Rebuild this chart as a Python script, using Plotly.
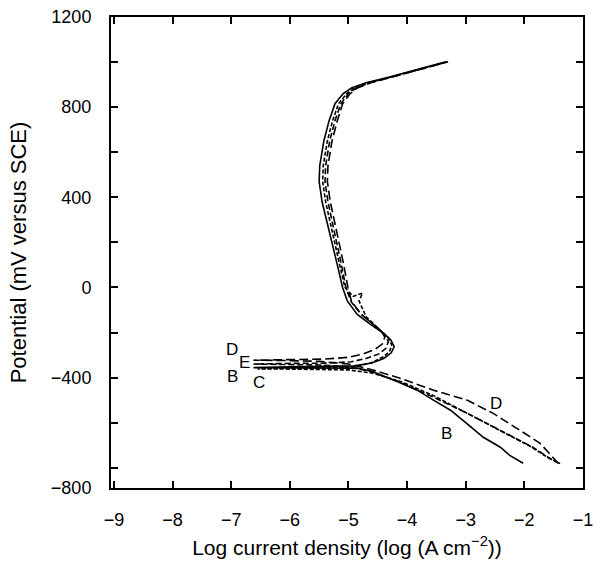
import plotly.graph_objects as go

# ---- data (log current density, potential mV vs SCE) ----
B_x = [-2.02, -2.25, -2.41, -2.70, -3.00, -3.26, -3.55, -3.83, -4.10, -4.34, -4.60, -4.85,
       -5.40, -6.00, -6.62, -6.00, -5.40, -4.90, -4.60, -4.40, -4.27, -4.22, -4.28, -4.42,
       -4.62, -4.85, -5.02, -5.10, -5.19, -5.32, -5.45, -5.50, -5.49, -5.42, -5.33, -5.23,
       -5.09, -4.95, -4.70, -4.30, -3.84, -3.50, -3.34]
B_y = [-780, -745, -709, -665, -600, -545, -500, -456, -425, -398, -372, -358,
       -357, -357, -356, -352, -351, -348, -335, -315, -290, -262, -232, -200,
       -165, -120, -60, 0, 100, 240, 380, 470, 540, 650, 740, 815,
       860, 885, 908, 934, 965, 990, 1001]

C_x = [-1.45, -1.60, -1.90, -2.45, -3.00, -3.55, -4.10, -4.60, -5.00, -5.50, -6.10, -6.55,
       -6.00, -5.40, -4.90, -4.62, -4.42, -4.30, -4.26, -4.33, -4.50, -4.70, -4.82, -4.76,
       -4.92, -5.06, -5.15, -5.27, -5.39, -5.44, -5.43, -5.36, -5.27, -5.17, -5.03, -4.90,
       -4.66, -4.27, -3.82, -3.48, -3.32]
C_y = [-775, -755, -705, -630, -555, -480, -418, -380, -366, -363, -362, -362,
       -360, -358, -352, -335, -310, -285, -255, -220, -180, -130, -60, -25,
       -40, 0, 100, 240, 380, 470, 540, 650, 740, 815, 860, 885,
       908, 934, 965, 990, 1001]

D_x = [-1.42, -1.73, -2.07, -2.53, -2.97, -3.55, -4.12, -4.60, -5.00, -5.50, -6.10, -6.62,
       -6.00, -5.40, -5.00, -4.75, -4.55, -4.42, -4.38, -4.45, -4.60, -4.80, -4.95, -5.01,
       -5.08, -5.19, -5.31, -5.36, -5.35, -5.28, -5.19, -5.10, -4.97, -4.85, -4.62, -4.25,
       -3.80, -3.46, -3.30]
D_y = [-781, -692, -635, -559, -501, -456, -403, -365, -340, -328, -324, -323,
       -320, -318, -310, -295, -275, -250, -220, -190, -160, -115, -60, 0,
       100, 240, 380, 470, 540, 650, 740, 815, 860, 885, 908, 934,
       965, 990, 1001]

E_x = [-1.39, -1.51, -1.85, -2.41, -2.97, -3.55, -4.12, -4.60, -5.00, -5.50, -6.10, -6.62,
       -6.00, -5.40, -4.95, -4.70, -4.48, -4.36, -4.32, -4.40, -4.55, -4.78, -4.95, -5.04,
       -5.12, -5.23, -5.35, -5.40, -5.39, -5.32, -5.23, -5.13, -5.00, -4.87, -4.64, -4.27,
       -3.82, -3.48, -3.31]
E_y = [-781, -768, -710, -635, -559, -487, -420, -375, -352, -344, -341, -340,
       -337, -336, -330, -315, -295, -270, -240, -205, -170, -120, -65, -5,
       100, 240, 380, 470, 540, 650, 740, 815, 860, 885, 908, 934,
       965, 990, 1001]

label_text = ["D", "E", "B", "C", "D", "B"]
label_x = [-6.98, -6.78, -6.98, -6.52, -2.48, -3.33]
label_y = [-274, -331, -393, -424, -514, -648]

x_ticks = [-9, -8, -7, -6, -5, -4, -3, -2, -1]
x_ticktext = ["\u22129", "\u22128", "\u22127", "\u22126", "\u22125", "\u22124", "\u22123", "\u22122", "\u22121"]
y_ticks = [1200, 800, 400, 0, -400, -890]
y_ticktext = ["1200", "800", "400", "0", "\u2212400", "\u2212800"]
y_minor_ticks = [1000, 600, 200, -200, -600, -800]

FONT = "Liberation Sans, Arial, sans-serif"

fig = go.Figure()
styles = [
    ("B", B_x, B_y, "solid"),
    ("C", C_x, C_y, "4px,2px"),
    ("D", D_x, D_y, "9px,4px"),
    ("E", E_x, E_y, "6px,3px"),
]
for name, xs, ys, dash in styles:
    fig.add_trace(go.Scatter(x=xs, y=ys, mode="lines", name=name,
                             line=dict(color="black", width=1.6, dash=dash),
                             showlegend=False))

for t, xv, yv in zip(label_text, label_x, label_y):
    fig.add_annotation(x=xv, y=yv, text=t, showarrow=False,
                       font=dict(family=FONT, size=17, color="black"))

axis_common = dict(showline=True, linecolor="black", linewidth=2, mirror="ticks",
                   ticks="inside", ticklen=7, tickwidth=2, tickcolor="black",
                   showgrid=False, zeroline=False, automargin=False,
                   tickfont=dict(family=FONT, size=18, color="black"))

fig.update_xaxes(range=[-9.05, -1.0], tickvals=x_ticks, ticktext=x_ticktext,
                 title=dict(text="Log current density (log (A cm<sup>\u22122</sup>))",
                            font=dict(family=FONT, size=21, color="black"), standoff=12),
                 ticklabelstandoff=14, **axis_common)
fig.update_yaxes(range=[-890, 1200], tickvals=y_ticks, ticktext=y_ticktext,
                 minor=dict(tickvals=y_minor_ticks, ticks="inside", ticklen=7,
                            tickwidth=2, tickcolor="black", showgrid=False),
                 title=dict(text="Potential (mV versus SCE)",
                            font=dict(family=FONT, size=22, color="black"), standoff=18),
                 ticklabelstandoff=14, **axis_common)

fig.update_layout(width=597, height=563, margin=dict(l=111, r=14, t=17, b=75),
                  plot_bgcolor="white", paper_bgcolor="white")

fig.write_html("out.html")
